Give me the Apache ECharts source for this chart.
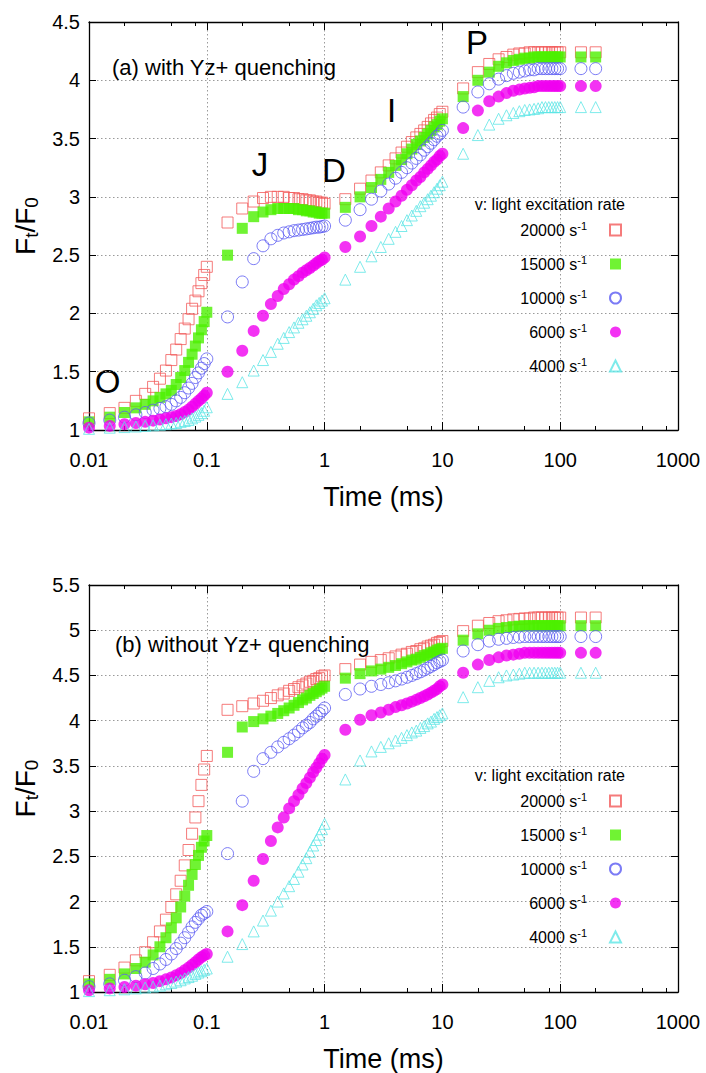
<!DOCTYPE html>
<html>
<head>
<meta charset="utf-8">
<script src="https://cdn.jsdelivr.net/npm/echarts@6/dist/echarts.min.js"></script>
<style>
html,body{margin:0;padding:0;background:#fff;}
#c{width:706px;height:1073px;}
</style>
</head>
<body>
<div id="c"></div>
<script>
// Time points (ms)
const T = [0.01,0.015,0.02,0.025,0.03,0.035,0.04,0.045,0.05,0.055,0.06,0.065,0.07,0.075,0.08,0.085,0.09,0.095,0.1,
0.15,0.2,0.25,0.3,0.35,0.4,0.45,0.5,0.55,0.6,0.65,0.7,0.75,0.8,0.85,0.9,0.95,1.0,
1.5,2,2.5,3,3.5,4,4.5,5,5.5,6,6.5,7,7.5,8,8.5,9,9.5,10,
15,20,25,30,35,40,45,50,55,60,65,70,75,80,85,90,95,100,
150,200];

// (a) with Yz+ quenching
const a20000 = [1.10,1.145,1.19,1.25,1.31,1.37,1.44,1.51,1.60,1.69,1.78,1.87,1.95,2.04,2.11,2.19,2.26,2.33,2.40,
2.78,2.90,2.96,2.99,3.00,3.00,3.00,2.99,2.99,2.98,2.98,2.97,2.97,2.96,2.96,2.95,2.95,2.94,
2.98,3.07,3.14,3.21,3.27,3.33,3.38,3.43,3.47,3.51,3.54,3.57,3.60,3.63,3.66,3.68,3.71,3.73,
3.93,4.07,4.14,4.18,4.20,4.22,4.23,4.23,4.24,4.24,4.24,4.24,4.24,4.24,4.24,4.24,4.24,4.24,
4.24,4.24];
const a15000 = [1.07,1.11,1.15,1.19,1.22,1.25,1.28,1.31,1.34,1.39,1.45,1.51,1.58,1.65,1.72,1.79,1.86,1.93,2.01,
2.50,2.73,2.83,2.87,2.89,2.90,2.90,2.90,2.90,2.89,2.89,2.88,2.88,2.87,2.87,2.86,2.86,2.86,
2.91,3.00,3.08,3.15,3.21,3.27,3.32,3.37,3.41,3.45,3.48,3.51,3.54,3.57,3.60,3.62,3.65,3.67,
3.86,4.00,4.07,4.12,4.15,4.17,4.18,4.19,4.19,4.20,4.20,4.20,4.20,4.20,4.20,4.20,4.20,4.20,
4.20,4.20];
const a10000 = [1.06,1.085,1.11,1.13,1.15,1.17,1.185,1.20,1.22,1.25,1.28,1.32,1.36,1.40,1.45,1.49,1.53,1.57,1.61,
1.97,2.27,2.47,2.58,2.64,2.67,2.69,2.70,2.71,2.715,2.72,2.725,2.73,2.735,2.74,2.74,2.745,2.75,
2.80,2.89,2.98,3.05,3.11,3.16,3.21,3.25,3.29,3.33,3.36,3.40,3.43,3.46,3.49,3.52,3.54,3.57,
3.77,3.90,3.97,4.01,4.04,4.06,4.07,4.08,4.09,4.09,4.10,4.10,4.10,4.10,4.10,4.10,4.10,4.10,
4.10,4.10];
const a6000 = [1.02,1.035,1.05,1.06,1.07,1.08,1.09,1.10,1.11,1.12,1.135,1.155,1.175,1.20,1.225,1.25,1.27,1.295,1.32,
1.50,1.68,1.85,1.98,2.08,2.15,2.21,2.25,2.29,2.32,2.35,2.37,2.39,2.41,2.43,2.45,2.46,2.48,
2.57,2.66,2.75,2.83,2.90,2.96,3.01,3.06,3.10,3.14,3.17,3.21,3.24,3.27,3.30,3.32,3.35,3.37,
3.59,3.74,3.82,3.86,3.89,3.91,3.92,3.93,3.935,3.94,3.95,3.95,3.95,3.95,3.95,3.95,3.95,3.95,
3.95,3.95];
const a4000 = [1.01,1.02,1.025,1.03,1.035,1.04,1.045,1.05,1.055,1.06,1.07,1.077,1.085,1.10,1.115,1.13,1.145,1.165,1.195,
1.31,1.41,1.51,1.60,1.67,1.74,1.79,1.84,1.88,1.92,1.95,1.98,2.01,2.04,2.07,2.09,2.11,2.13,
2.29,2.40,2.49,2.57,2.64,2.70,2.75,2.80,2.84,2.88,2.92,2.95,2.98,3.01,3.04,3.07,3.10,3.13,
3.37,3.53,3.62,3.67,3.70,3.72,3.735,3.745,3.75,3.755,3.76,3.77,3.77,3.77,3.77,3.77,3.77,3.77,
3.77,3.77];

// (b) without Yz+ quenching
const b20000 = [1.12,1.19,1.27,1.35,1.44,1.55,1.67,1.80,1.94,2.08,2.23,2.40,2.57,2.75,2.93,3.11,3.29,3.46,3.61,
4.12,4.16,4.19,4.22,4.25,4.28,4.30,4.33,4.35,4.37,4.39,4.41,4.43,4.44,4.46,4.47,4.49,4.50,
4.57,4.62,4.65,4.67,4.69,4.71,4.73,4.74,4.76,4.77,4.79,4.80,4.82,4.83,4.84,4.86,4.87,4.88,
4.99,5.05,5.08,5.10,5.11,5.12,5.125,5.13,5.13,5.14,5.14,5.14,5.14,5.14,5.14,5.14,5.14,5.14,
5.14,5.14];
const b15000 = [1.09,1.14,1.20,1.26,1.33,1.41,1.50,1.60,1.71,1.82,1.94,2.06,2.18,2.30,2.41,2.51,2.60,2.67,2.73,
3.65,3.93,3.99,4.02,4.05,4.08,4.11,4.14,4.17,4.20,4.23,4.25,4.28,4.30,4.32,4.34,4.36,4.38,
4.47,4.52,4.55,4.57,4.59,4.61,4.63,4.65,4.67,4.68,4.70,4.72,4.73,4.75,4.76,4.78,4.79,4.80,
4.89,4.96,5.00,5.02,5.03,5.04,5.045,5.05,5.05,5.05,5.05,5.05,5.05,5.05,5.05,5.05,5.05,5.05,
5.05,5.05];
const b10000 = [1.06,1.09,1.13,1.17,1.21,1.26,1.31,1.36,1.42,1.48,1.54,1.60,1.66,1.72,1.77,1.81,1.85,1.87,1.89,
2.53,3.11,3.44,3.58,3.65,3.71,3.76,3.80,3.84,3.88,3.92,3.95,3.98,4.02,4.05,4.08,4.11,4.14,
4.29,4.35,4.38,4.40,4.42,4.44,4.46,4.48,4.50,4.52,4.54,4.56,4.58,4.60,4.62,4.64,4.655,4.67,
4.77,4.84,4.88,4.90,4.91,4.92,4.925,4.93,4.93,4.93,4.93,4.93,4.93,4.93,4.93,4.93,4.93,4.93,
4.93,4.93];
const b6000 = [1.02,1.04,1.055,1.07,1.085,1.10,1.12,1.14,1.16,1.185,1.21,1.24,1.27,1.30,1.33,1.36,1.385,1.405,1.42,
1.67,1.96,2.23,2.47,2.67,2.82,2.93,3.03,3.11,3.18,3.25,3.31,3.37,3.43,3.48,3.53,3.58,3.62,
3.90,4.01,4.06,4.09,4.12,4.15,4.17,4.19,4.21,4.23,4.25,4.27,4.29,4.31,4.33,4.35,4.38,4.40,
4.53,4.62,4.67,4.70,4.72,4.73,4.74,4.75,4.75,4.75,4.75,4.75,4.75,4.75,4.75,4.75,4.75,4.75,
4.75,4.75];
const b4000 = [1.01,1.02,1.03,1.04,1.05,1.06,1.07,1.085,1.10,1.115,1.13,1.15,1.165,1.18,1.20,1.215,1.23,1.245,1.26,
1.39,1.53,1.67,1.79,1.90,2.00,2.09,2.17,2.25,2.33,2.41,2.48,2.55,2.62,2.68,2.74,2.80,2.86,
3.35,3.56,3.66,3.71,3.75,3.78,3.81,3.84,3.87,3.89,3.92,3.94,3.97,3.99,4.02,4.04,4.06,4.08,
4.26,4.37,4.44,4.48,4.50,4.51,4.52,4.53,4.53,4.53,4.53,4.53,4.53,4.53,4.53,4.53,4.53,4.53,
4.53,4.53];

const rates = ['20000','15000','10000','6000','4000'];
const majorX = [0.01,0.1,1,10,100,1000];
const minorX = [0.02,0.05,0.08,0.2,0.5,0.8,2,5,8,20,50,80,200,500,800];

const FONT = '"Liberation Sans", Arial, Helvetica, sans-serif';
const styles = {
  '20000': {symbol:'rect', symbolSize:11, itemStyle:{color:'rgba(255,255,255,0)', borderColor:'#f25a5a', borderWidth:1}},
  '15000': {symbol:'rect', symbolSize:11, itemStyle:{color:'#4cf000'}},
  '10000': {symbol:'circle', symbolSize:12, itemStyle:{color:'rgba(255,255,255,0)', borderColor:'#5a5af2', borderWidth:1}},
  '6000':  {symbol:'circle', symbolSize:12, itemStyle:{color:'#f000f0'}},
  '4000':  {symbol:'triangle', symbolSize:11, itemStyle:{color:'rgba(255,255,255,0)', borderColor:'#5ee6e6', borderWidth:1}}
};
const panelA = [a20000,a15000,a10000,a6000,a4000];
const panelB = [b20000,b15000,b10000,b6000,b4000];

const grids = [
  {left:89, top:22, width:589, height:408},
  {left:89, top:585, width:589, height:409}
];
const fmtX = v => String(+Number(v).toPrecision(6));
const gridLine = {show:true, lineStyle:{color:'#9a9a9a', width:1, type:[1.5,2.5]}};

function xAxes(g) {
  const base = {gridIndex:g, type:'log', logBase:10, min:0.01, max:1000};
  return [
    Object.assign({}, base, {position:'bottom',
      axisLine:{show:true, onZero:false, lineStyle:{color:'#000', width:1.3}},
      axisTick:{show:true, inside:true, length:8, lineStyle:{color:'#000', width:1}},
      axisLabel:{show:true, margin:20, fontSize:20, color:'#000', fontFamily:FONT, formatter:fmtX, customValues:majorX},
      splitLine:gridLine,
      name:'Time (ms)', nameLocation:'middle', nameGap:53,
      nameTextStyle:{fontSize:27, color:'#000', fontFamily:FONT}}),
    Object.assign({}, base, {position:'top',
      axisLine:{show:true, onZero:false, lineStyle:{color:'#000', width:1.3}},
      axisTick:{show:true, inside:true, length:8, lineStyle:{color:'#000', width:1}},
      axisLabel:{show:false}, splitLine:{show:false}}),
    Object.assign({}, base, {position:'bottom',
      axisLine:{show:false, onZero:false},
      axisTick:{show:true, inside:true, length:4, customValues:minorX, lineStyle:{color:'#000', width:1}},
      axisLabel:{show:false}, splitLine:{show:false}}),
    Object.assign({}, base, {position:'top',
      axisLine:{show:false, onZero:false},
      axisTick:{show:true, inside:true, length:4, customValues:minorX, lineStyle:{color:'#000', width:1}},
      axisLabel:{show:false}, splitLine:{show:false}})
  ];
}
function yAxes(g, maxV) {
  const base = {gridIndex:g, type:'value', min:1, max:maxV, interval:0.5};
  return [
    Object.assign({}, base, {position:'left',
      axisLine:{show:true, onZero:false, lineStyle:{color:'#000', width:1.3}},
      axisTick:{show:true, inside:true, length:7, lineStyle:{color:'#000', width:1}},
      axisLabel:{show:true, margin:9, fontSize:20, color:'#000', fontFamily:FONT},
      splitLine:gridLine,
      name:'{a|F}{b|t}{a|/F}{b|0}', nameLocation:'middle', nameGap:47, nameRotate:90,
      nameTextStyle:{color:'#000', fontFamily:FONT,
        rich:{a:{fontSize:28, lineHeight:32, fontFamily:FONT, color:'#000'},
              b:{fontSize:19, lineHeight:16, verticalAlign:'bottom', fontFamily:FONT, color:'#000'}}}}),
    Object.assign({}, base, {position:'right',
      axisLine:{show:true, onZero:false, lineStyle:{color:'#000', width:1.3}},
      axisTick:{show:true, inside:true, length:7, lineStyle:{color:'#000', width:1}},
      axisLabel:{show:false}, splitLine:{show:false}})
  ];
}

const series = [];
[panelA, panelB].forEach((panel, g) => {
  panel.forEach((vals, k) => {
    const r = rates[k];
    series.push(Object.assign({
      type:'scatter', name:'v'+r,
      xAxisIndex: g*4, yAxisIndex: g*2,
      data: T.map((t,i) => [t, vals[i]]),
      clip:false, silent:true, animation:false
    }, styles[r]));
  });
});

function legendFor(top) {
  return {
    orient:'vertical', right:84, top:top, padding:0, itemGap:16,
    itemWidth:11, itemHeight:11, align:'right', selectedMode:false,
    data: rates.map(r => 'v'+r),
    formatter: name => '{n|' + name.slice(1) + ' s}{s|-1}',
    textStyle:{ rich:{
      n:{fontSize:16, lineHeight:20, fontFamily:FONT, color:'#000'},
      s:{fontSize:11, lineHeight:12, verticalAlign:'top', fontFamily:FONT, color:'#000', padding:[0,18,0,0]}
    }}
  };
}

function txt(x, y, s, size, align) {
  return {type:'text', x:x, y:y, silent:true,
    style:{text:s, fill:'#000', font: size + 'px ' + FONT, align: align || 'left', verticalAlign:'middle'}};
}

const chart = echarts.init(document.getElementById('c'), null, {renderer:'svg'});
chart.setOption({
  animation:false,
  backgroundColor:'#fff',
  grid: grids,
  xAxis: xAxes(0).concat(xAxes(1)),
  yAxis: yAxes(0, 4.5).concat(yAxes(1, 5.5)),
  legend: [legendFor(220), legendFor(791)],
  series: series,
  graphic: [
    txt(112, 67, '(a) with Yz+ quenching', 22),
    txt(115, 644, '(b) without Yz+ quenching', 22),
    txt(625, 204, 'v: light excitation rate', 16, 'right'),
    txt(625, 775, 'v: light excitation rate', 16, 'right'),
    txt(107.5, 381, 'O', 33, 'center'),
    txt(260, 164, 'J', 33, 'center'),
    txt(334, 170, 'D', 33, 'center'),
    txt(391.5, 110, 'I', 33, 'center'),
    txt(477, 42, 'P', 33, 'center')
  ]
});
</script>
</body>
</html>
